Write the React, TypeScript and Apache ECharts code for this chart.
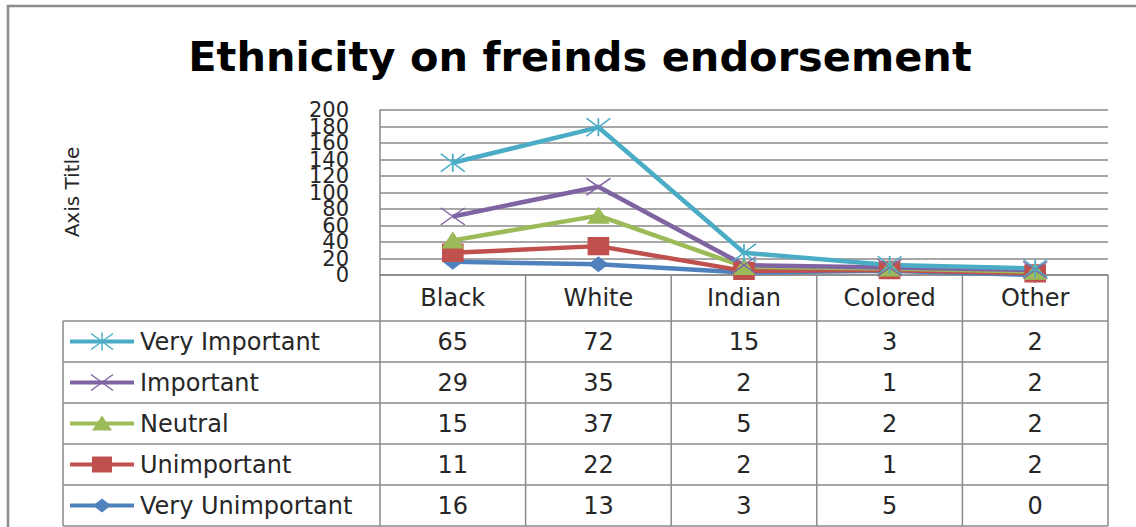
import React, { useEffect, useRef } from "react";
import * as echarts from "echarts";

// Categories and values per response level (raw counts, stacked in the chart)
const categories = ["Black", "White", "Indian", "Colored", "Other"];
const veryImportant = [65, 72, 15, 3, 2];
const important = [29, 35, 2, 1, 2];
const neutral = [15, 37, 5, 2, 2];
const unimportant = [11, 22, 2, 1, 2];
const veryUnimportant = [16, 13, 3, 5, 0];

const yMin = 0;
const yMax = 200;
const yStep = 20;

const FONT = "DejaVu Sans";
const GRID_LINE = "#8a8a8a";
const TEXT = "#262626";

// Plot area and data-table geometry
const PLOT_LEFT = 380;
const PLOT_RIGHT = 1108;
const PLOT_TOP = 110;
const PLOT_BOTTOM = 275;
const TABLE_LEFT = 63;
const ROW_EDGES = [321, 362, 403, 444, 485, 526];

type Marker = "star" | "x" | "triangle" | "square" | "diamond";

interface Level {
  name: string;
  values: number[];
  color: string;
  marker: Marker;
}

// Stack order: bottom first
const levels: Level[] = [
  { name: "Very Unimportant", values: veryUnimportant, color: "#4F81BD", marker: "diamond" },
  { name: "Unimportant", values: unimportant, color: "#C0504D", marker: "square" },
  { name: "Neutral", values: neutral, color: "#9BBB59", marker: "triangle" },
  { name: "Important", values: important, color: "#8064A2", marker: "x" },
  { name: "Very Important", values: veryImportant, color: "#4BACC6", marker: "star" },
];

const symbolFor: Record<Marker, { symbol: string; size: number[] }> = {
  star: { symbol: "path://M0,0L24,18M24,0L0,18M12,0L12,18", size: [24, 18] },
  x: { symbol: "path://M0,0L24,17M24,0L0,17", size: [24, 17] },
  triangle: { symbol: "triangle", size: [20, 15] },
  square: { symbol: "rect", size: [20, 17] },
  diamond: { symbol: "diamond", size: [18, 14] },
};

function legendMarker(m: Marker, cx: number, cy: number, color: string): any[] {
  const stroke = { stroke: color, lineWidth: 1.5 };
  switch (m) {
    case "star":
      return [
        { type: "line", shape: { x1: cx - 11, y1: cy - 8, x2: cx + 11, y2: cy + 8 }, style: stroke },
        { type: "line", shape: { x1: cx + 11, y1: cy - 8, x2: cx - 11, y2: cy + 8 }, style: stroke },
        { type: "line", shape: { x1: cx, y1: cy - 9, x2: cx, y2: cy + 9 }, style: stroke },
      ];
    case "x":
      return [
        { type: "line", shape: { x1: cx - 11, y1: cy - 8, x2: cx + 11, y2: cy + 8 }, style: stroke },
        { type: "line", shape: { x1: cx + 11, y1: cy - 8, x2: cx - 11, y2: cy + 8 }, style: stroke },
      ];
    case "triangle":
      return [
        {
          type: "polygon",
          shape: { points: [[cx - 10, cy + 7], [cx + 10, cy + 7], [cx, cy - 8]] },
          style: { fill: color },
        },
      ];
    case "square":
      return [{ type: "rect", shape: { x: cx - 10, y: cy - 8, width: 20, height: 16 }, style: { fill: color } }];
    case "diamond":
      return [
        {
          type: "polygon",
          shape: { points: [[cx - 9, cy], [cx, cy - 7], [cx + 9, cy], [cx, cy + 7]] },
          style: { fill: color },
        },
      ];
  }
}

function buildTable(): any[] {
  const els: any[] = [];
  const colW = (PLOT_RIGHT - PLOT_LEFT) / categories.length;
  const lineStyle = { stroke: GRID_LINE, lineWidth: 1.5 };

  // horizontal rules
  ROW_EDGES.forEach((y) => {
    els.push({ type: "line", shape: { x1: TABLE_LEFT, y1: y, x2: PLOT_RIGHT, y2: y }, style: lineStyle });
  });
  // left edge of legend column
  els.push({
    type: "line",
    shape: { x1: TABLE_LEFT, y1: ROW_EDGES[0], x2: TABLE_LEFT, y2: ROW_EDGES[ROW_EDGES.length - 1] },
    style: lineStyle,
  });
  // column separators
  for (let i = 0; i <= categories.length; i++) {
    const x = PLOT_LEFT + i * colW;
    els.push({
      type: "line",
      shape: { x1: x, y1: PLOT_BOTTOM, x2: x, y2: ROW_EDGES[ROW_EDGES.length - 1] },
      style: lineStyle,
    });
  }

  // rows: top row is the last level in the stack
  const rows = [...levels].reverse();
  rows.forEach((lv, r) => {
    const cy = (ROW_EDGES[r] + ROW_EDGES[r + 1]) / 2;
    els.push({
      type: "line",
      shape: { x1: 70, y1: cy, x2: 134, y2: cy },
      style: { stroke: lv.color, lineWidth: 4 },
    });
    els.push(...legendMarker(lv.marker, 102, cy, lv.color));
    els.push({
      type: "text",
      x: 140,
      y: cy,
      style: {
        text: lv.name,
        fontFamily: FONT,
        fontSize: 24,
        fill: TEXT,
        align: "left",
        verticalAlign: "middle",
      },
    });
    lv.values.forEach((v, c) => {
      els.push({
        type: "text",
        x: PLOT_LEFT + (c + 0.5) * colW,
        y: cy,
        style: {
          text: String(v),
          fontFamily: FONT,
          fontSize: 24,
          fill: TEXT,
          align: "center",
          verticalAlign: "middle",
        },
      });
    });
  });
  return els;
}

// Two value axes share the plot's left edge; each labels every other tick,
// so the closely spaced tick labels are all kept.
function valueAxis(showEven: boolean, primary: boolean): any {
  return {
    type: "value",
    position: "left",
    min: yMin,
    max: yMax,
    interval: yStep,
    axisLine: { show: primary, lineStyle: { color: GRID_LINE, width: 1.5 } },
    axisTick: { show: false },
    axisLabel: {
      fontFamily: FONT,
      fontSize: 21,
      color: TEXT,
      margin: 31,
      showMinLabel: true,
      showMaxLabel: true,
      formatter: (v: number) => ((v / yStep) % 2 === 0) === showEven ? String(v) : "",
    },
    splitLine: { show: primary, lineStyle: { color: GRID_LINE, width: 1.5 } },
  };
}

export default function App() {
  const ref = useRef<HTMLDivElement>(null);

  useEffect(() => {
    if (!ref.current) return;
    const chart = echarts.init(ref.current, undefined, { renderer: "svg" });

    const option: any = {
      animation: false,
      backgroundColor: "#ffffff",
      title: {
        text: "Ethnicity on freinds endorsement",
        left: 575,
        top: 30,
        textAlign: "center",
        textStyle: { fontFamily: FONT, fontSize: 41.5, fontWeight: "bold", color: "#000000" },
      },
      grid: {
        left: PLOT_LEFT,
        right: 1136 - PLOT_RIGHT,
        top: PLOT_TOP,
        bottom: 527 - PLOT_BOTTOM,
        containLabel: false,
      },
      xAxis: {
        type: "category",
        data: categories,
        boundaryGap: true,
        axisLine: { show: true, lineStyle: { color: GRID_LINE, width: 1.5 } },
        axisTick: { show: false },
        axisLabel: { fontFamily: FONT, fontSize: 24, color: TEXT, margin: 11, interval: 0 },
        splitLine: { show: false },
      },
      yAxis: [valueAxis(true, true), valueAxis(false, false)],
      series: levels.map((lv) => ({
        name: lv.name,
        type: "line",
        stack: "total",
        yAxisIndex: 0,
        data: lv.values,
        symbol: symbolFor[lv.marker].symbol,
        symbolSize: symbolFor[lv.marker].size,
        showSymbol: true,
        lineStyle: { color: lv.color, width: 4.5 },
        itemStyle: { color: lv.color, borderColor: lv.color, borderWidth: 1.5 },
        emphasis: { disabled: true },
        silent: true,
      })),
      graphic: [
        {
          type: "rect",
          shape: { x: 8, y: 6, width: 1140, height: 530 },
          style: { fill: "none", stroke: "#8c8c8c", lineWidth: 2.5 },
          silent: true,
        },
        {
          type: "text",
          x: 72,
          y: 192,
          rotation: Math.PI / 2,
          style: {
            text: "Axis Title",
            fontFamily: FONT,
            fontSize: 20,
            fill: TEXT,
            align: "center",
            verticalAlign: "middle",
          },
        },
        ...buildTable(),
      ],
    };

    chart.setOption(option);
    return () => chart.dispose();
  }, []);

  return (
    <div
      ref={ref}
      style={{ position: "absolute", left: 0, top: 0, width: 1136, height: 527 }}
    />
  );
}
